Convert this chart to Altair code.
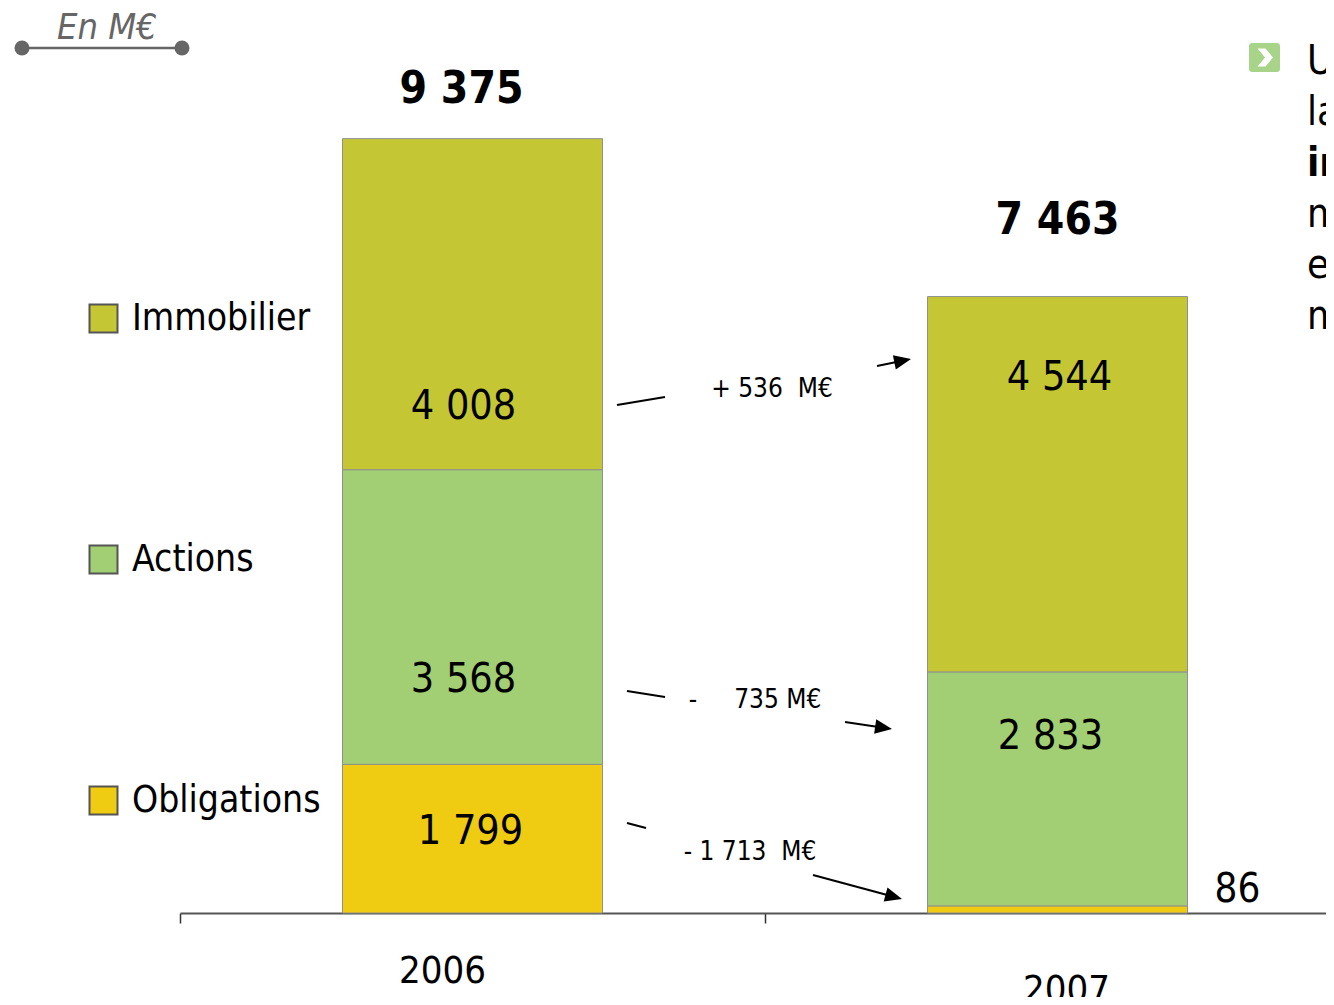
import math
import altair as alt
import pandas as pd

# ---------------- data ----------------
years = ["2006", "2007"]
categories = ["Obligations", "Actions", "Immobilier"]   # stacking order, bottom to top
obligations = [1799, 86]
actions = [3568, 2833]
immobilier = [4008, 4544]
change_labels = {"Immobilier": "+\u00a0536\u00a0\u00a0M€",
                 "Actions": "-\u00a0\u00a0\u00a0\u00a0\u00a0735\u00a0M€",
                 "Obligations": "-\u00a01\u00a0713\u00a0\u00a0M€"}
unit_note = "En M€"
side_lines = ["U", "la", "im", "m", "et", "m"]
side_bold = [False, False, True, False, False, False]

# ---------------- styling / layout ----------------
FONT = "'DejaVu Sans Condensed', 'DejaVu Sans', sans-serif"
cat_colors = {"Immobilier": "#C4C733", "Actions": "#A2CF73", "Obligations": "#EFCB11"}
legend_order = ["Immobilier", "Actions", "Obligations"]
M = 8             # page margin
PX = 0.0826       # pixels per M€
BASE = 905        # svg y of value 0
W = 1318
BAND0 = 172
STEP = 585
BAR_W = 260

# where inside each segment its value label sits (fraction of segment height) and its x nudge
label_frac = {("2006", "Obligations"): 0.545, ("2006", "Actions"): 0.286,
              ("2006", "Immobilier"): 0.19, ("2007", "Actions"): 0.722,
              ("2007", "Immobilier"): 0.783}
label_dx = {("2006", "Obligations"): -2, ("2006", "Actions"): -9,
            ("2006", "Immobilier"): -9, ("2007", "Actions"): -7,
            ("2007", "Immobilier"): 2}
total_off = {"2006": (-11, 36), "2007": (0, 63)}
year_label_off = {"2006": (-30, 975), "2007": (9, 994)}
# annotation geometry (page pixels)
change_text_pos = {"Immobilier": (772, 397), "Actions": (755, 708), "Obligations": (750, 860)}
lead_lines = {"Immobilier": ((617, 405), (665, 397)), "Actions": ((627, 691), (665, 697)),
              "Obligations": ((627, 823), (646, 828))}
arrows = {"Immobilier": ((877, 366), (911, 359)), "Actions": ((845, 722), (892, 729)),
          "Obligations": ((813, 875), (902, 899))}


def fmt(v):
    return f"{abs(v):,}".replace(",", " ")


series = dict(zip(categories, [obligations, actions, immobilier]))

rows = []
for i, yr in enumerate(years):
    b = 0
    for c in categories:
        v = series[c][i]
        fr = label_frac.get((yr, c))
        rows.append(dict(year=yr, cat=c, value=v, y0=b, y1=b + v, label=fmt(v),
                         ly=(b + fr * v) if fr is not None else None))
        b += v
df = pd.DataFrame(rows)
df_out = df[df["ly"].isna()]

totals = pd.DataFrame({"year": years,
                       "total": [sum(series[c][i] for c in categories) for i in range(len(years))]})
totals["label"] = totals["total"].map(fmt)
totals["ty"] = [t + total_off[y][1] / PX for t, y in zip(totals["total"], totals["year"])]

xs = alt.Scale(domain=years, range=[BAND0, BAND0 + 2 * STEP], paddingInner=0, paddingOuter=0)
ys = alt.Scale(domain=[0, BASE / PX], range=[BASE, 0], nice=False, zero=True)

bars = alt.Chart(df).mark_bar(size=BAR_W, stroke="#8f8f8f", strokeWidth=1).encode(
    x=alt.X("year:N", scale=xs, axis=alt.Axis(title=None, labels=False, domain=True,
                                              domainColor="#555", domainWidth=2, ticks=True,
                                              tickColor="#333", tickSize=10, tickWidth=1.5,
                                              bandPosition=0, grid=False)),
    y=alt.Y("y1:Q", scale=ys, axis=None),
    y2="y0:Q",
    color=alt.Color("cat:N",
                    scale=alt.Scale(domain=legend_order, range=[cat_colors[c] for c in legend_order]),
                    legend=alt.Legend(orient="none", legendX=77, legendY=292, direction="vertical",
                                      symbolType="square", symbolSize=784, symbolStrokeColor="#555",
                                      symbolStrokeWidth=2, symbolOpacity=1, labelFont=FONT,
                                      labelFontSize=37, labelColor="black", labelOffset=10,
                                      rowPadding=203, title=None, padding=0, labelLimit=500)),
)

in_layers = []
for (yr, c), dx in label_dx.items():
    sub = df[(df["year"] == yr) & (df["cat"] == c)]
    in_layers.append(alt.Chart(sub).mark_text(font=FONT, fontSize=41, color="black",
                                              baseline="middle", dx=dx).encode(
        x=alt.X("year:N", scale=xs, axis=None),
        y=alt.Y("ly:Q", scale=ys, axis=None),
        text="label:N",
    ))
out_labels = alt.Chart(df_out).mark_text(font=FONT, fontSize=40, color="black",
                                         baseline="alphabetic", dx=180, dy=-4).encode(
    x=alt.X("year:N", scale=xs, axis=None),
    y=alt.Y("y1:Q", scale=ys, axis=None),
    text="label:N",
)
tot_layers = []
for yr in years:
    tot_layers.append(alt.Chart(totals[totals["year"] == yr]).mark_text(
        font=FONT, fontSize=44, fontWeight="bold", color="black", baseline="alphabetic",
        dx=total_off[yr][0]).encode(
        x=alt.X("year:N", scale=xs, axis=None),
        y=alt.Y("ty:Q", scale=ys, axis=None),
        text="label:N",
    ))

year_layers = []
for yr in years:
    dx, yy = year_label_off[yr]
    year_layers.append(
        alt.Chart(pd.DataFrame({"year": [yr]})).mark_text(font=FONT, fontSize=38, color="black",
                                                          baseline="alphabetic", dx=dx).encode(
            x=alt.X("year:N", scale=xs, axis=None),
            y=alt.value(yy),
            text="year:N",
        ))

# ---- change annotations ----
chg_rows, rule_rows, head_rows = [], [], []
for c in ["Immobilier", "Actions", "Obligations"]:
    tx, ty = change_text_pos[c]
    chg_rows.append(dict(x=tx - M, y=ty - M, text=change_labels[c]))
    (a, b) = lead_lines[c]
    rule_rows.append(dict(x=a[0] - M, y=a[1] - M, x2=b[0] - M, y2=b[1] - M))
    (t0, t1) = arrows[c]
    ddx, ddy = t1[0] - t0[0], t1[1] - t0[1]
    L = math.hypot(ddx, ddy)
    ux, uy = ddx / L, ddy / L
    cx, cy = t1[0] - 8.5 * ux, t1[1] - 8.5 * uy
    rule_rows.append(dict(x=t0[0] - M, y=t0[1] - M, x2=cx - M, y2=cy - M))
    head_rows.append(dict(x=cx - M, y=cy - M, angle=math.degrees(math.atan2(ddy, ddx)) % 360))

px = lambda f: alt.X(f, scale=None, axis=None)
py = lambda f: alt.Y(f, scale=None, axis=None)

chg_text = alt.Chart(pd.DataFrame(chg_rows)).mark_text(font=FONT, fontSize=26, color="black",
                                                       baseline="alphabetic").encode(
    x=px("x:Q"), y=py("y:Q"), text="text:N")
chg_rules = alt.Chart(pd.DataFrame(rule_rows)).mark_rule(color="black", strokeWidth=2).encode(
    x=px("x:Q"), y=py("y:Q"), x2="x2:Q", y2="y2:Q")
chg_heads = alt.Chart(pd.DataFrame(head_rows)).mark_point(
    shape="M1,0L-1,-0.85L-1,0.85Z", size=289, filled=True, color="black", opacity=1).encode(
    x=px("x:Q"), y=py("y:Q"), angle=alt.Angle("angle:Q", scale=None))

# ---- "En M€" note ----
note_text = alt.Chart(pd.DataFrame({"x": [107 - M], "y": [39 - M], "t": [unit_note]})).mark_text(
    font=FONT, fontSize=36, fontStyle="italic", color="#666666", baseline="alphabetic").encode(
    x=px("x:Q"), y=py("y:Q"), text="t:N")
note_rule = alt.Chart(pd.DataFrame({"x": [22 - M], "x2": [182 - M], "y": [48 - M]})).mark_rule(
    color="#666666", strokeWidth=2.5).encode(x=px("x:Q"), x2="x2:Q", y=py("y:Q"))
note_dots = alt.Chart(pd.DataFrame({"x": [22 - M, 182 - M], "y": [48 - M, 48 - M]})).mark_point(
    shape="circle", filled=True, size=225, color="#666666", opacity=1).encode(
    x=px("x:Q"), y=py("y:Q"))

# ---- side text block ----
side_df = pd.DataFrame({"x": [1307 - M] * len(side_lines),
                        "y": [74 + 51 * i - M for i in range(len(side_lines))],
                        "t": side_lines, "b": side_bold})
side_norm = alt.Chart(side_df[~side_df["b"]]).mark_text(
    font=FONT, fontSize=40, color="black", align="left", baseline="alphabetic").encode(
    x=px("x:Q"), y=py("y:Q"), text="t:N")
side_bold_l = alt.Chart(side_df[side_df["b"]]).mark_text(
    font=FONT, fontSize=40, fontWeight="bold", color="black", align="left", baseline="alphabetic").encode(
    x=px("x:Q"), y=py("y:Q"), text="t:N")
icon = alt.Chart(pd.DataFrame({"x": [1249 - M], "x2": [1280 - M], "y": [43 - M], "y2": [72 - M]})).mark_rect(
    color="#A8D48A", cornerRadius=3).encode(x=px("x:Q"), x2="x2:Q", y=py("y:Q"), y2="y2:Q")
chevron = alt.Chart(pd.DataFrame({"x": [1265 - M], "y": [57.5 - M]})).mark_point(
    shape="M-0.75,-0.9L0.05,-0.9L0.8,0L0.05,0.9L-0.75,0.9L0,0Z", size=400, filled=True,
    color="white", opacity=1).encode(x=px("x:Q"), y=py("y:Q"))

chart = alt.layer(
    bars, *in_layers, out_labels, *tot_layers, *year_layers,
    chg_rules, chg_heads, chg_text,
    note_rule, note_dots, note_text,
    icon, chevron, side_norm, side_bold_l,
).resolve_scale(x="independent", y="independent").properties(
    width=W, height=BASE,
    padding={"left": 0, "top": 0, "right": 0, "bottom": 84},
    autosize=alt.AutoSizeParams(type="none"),
).configure_view(stroke=None)

chart.save("out.html", embed_options={"renderer": "svg", "actions": False})
